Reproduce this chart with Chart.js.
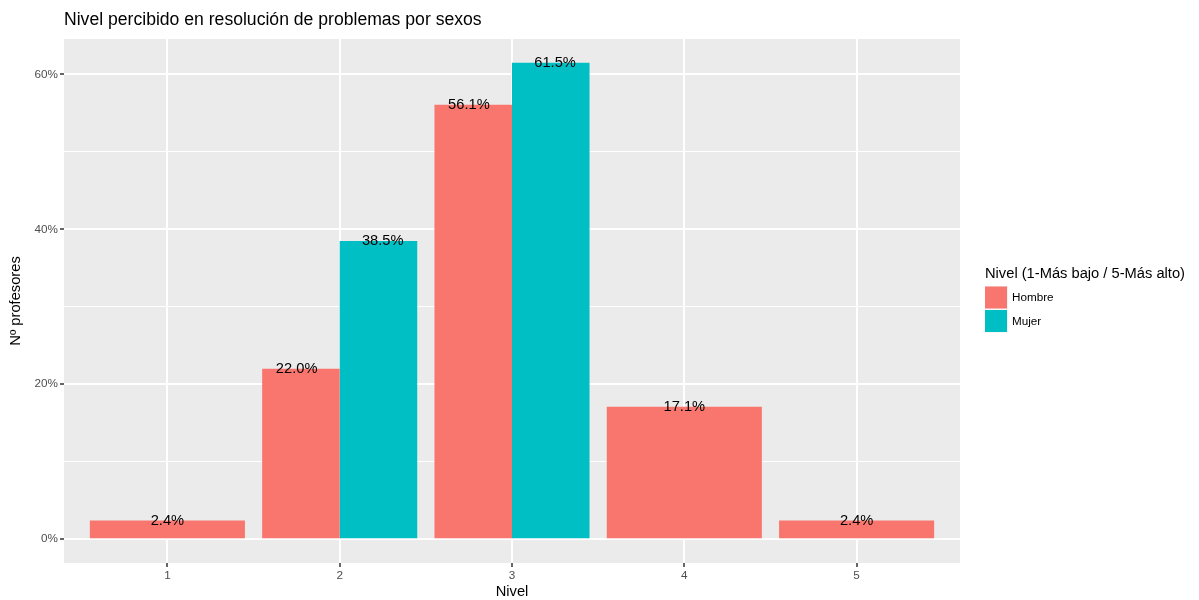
<!DOCTYPE html>
<html><head><meta charset="utf-8">
<script src="https://cdn.jsdelivr.net/npm/chart.js@4"></script>
<style>html,body{margin:0;padding:0;background:#fff}canvas{display:block}</style>
</head><body>
<canvas id="c" width="1199" height="600"></canvas>
<script>
const niveles = [1, 2, 3, 4, 5];
const hombre = [2.4, 22.0, 56.1, 17.1, 2.4];
const mujer = [null, 38.5, 61.5, null, null];
const seriesNames = ['Hombre', 'Mujer'];
const seriesColors = ['#F8766D', '#00BFC4'];
const titleText = 'Nivel percibido en resolución de problemas por sexos';
const xTitle = 'Nivel';
const yTitle = 'Nº profesores';
const legendTitle = 'Nivel (1-Más bajo / 5-Más alto)';

const FONT = '"Liberation Sans", Arial, Helvetica, sans-serif';

function toPoints(vals) { return niveles.map((n, i) => ({ x: n, y: vals[i] })); }

const decor = {
  id: 'decor',
  beforeDraw(chart) {
    const { ctx, chartArea: a } = chart;
    ctx.save();
    ctx.fillStyle = '#EBEBEB';
    ctx.fillRect(a.left, a.top, a.right - a.left, a.bottom - a.top);
    ctx.restore();
  },
  afterDraw(chart) {
    const { ctx, chartArea: a } = chart;
    const xs = chart.scales.x;
    ctx.save();
    ctx.fillStyle = '#000';
    ctx.font = '17.6px ' + FONT;
    ctx.textAlign = 'left';
    ctx.textBaseline = 'alphabetic';
    ctx.fillText(titleText, a.left, 25);
    ctx.font = '14.7px ' + FONT;
    ctx.textAlign = 'center';
    ctx.textBaseline = 'middle';
    ctx.fillText(xTitle, (a.left + a.right) / 2, 592);
    ctx.save();
    ctx.translate(16, (a.top + a.bottom) / 2);
    ctx.rotate(-Math.PI / 2);
    ctx.fillText(yTitle, 0, 0);
    ctx.restore();
    ctx.font = '14.7px ' + FONT;
    ctx.fillStyle = '#000';
    chart.data.datasets.forEach((ds, di) => {
      const meta = chart.getDatasetMeta(di);
      meta.data.forEach((el, i) => {
        const v = ds.data[i].y;
        if (v === null || v === undefined) return;
        const cx = xs.getPixelForValue(ds.data[i].x);
        const lx = cx + (el.x - cx) / 0.9;
        ctx.fillText(v.toFixed(1) + '%', lx, el.y);
      });
    });
    const lx = 985;
    ctx.textAlign = 'left';
    ctx.font = '14.7px ' + FONT;
    ctx.fillText(legendTitle, lx, 274);
    ctx.font = '11.7px ' + FONT;
    seriesNames.forEach((name, i) => {
      const ky = 286 + i * 23.5;
      ctx.fillStyle = '#F2F2F2';
      ctx.fillRect(lx, ky, 23, 23);
      ctx.fillStyle = seriesColors[i];
      ctx.fillRect(lx, ky + 0.5, 22, 22);
      ctx.fillStyle = '#000';
      ctx.fillText(name, lx + 27, ky + 12);
    });
    ctx.restore();
  }
};

new Chart(document.getElementById('c'), {
  type: 'bar',
  data: {
    datasets: [
      { label: seriesNames[0], data: toPoints(hombre), backgroundColor: seriesColors[0], borderWidth: 0,
        categoryPercentage: 0.9, barPercentage: 1, skipNull: true },
      { label: seriesNames[1], data: toPoints(mujer), backgroundColor: seriesColors[1], borderWidth: 0,
        categoryPercentage: 0.9, barPercentage: 1, skipNull: true }
    ]
  },
  options: {
    responsive: false,
    animation: false,
    devicePixelRatio: 1,
    layout: { padding: { left: 0, top: 39, right: 239, bottom: 0 } },
    plugins: { legend: { display: false }, tooltip: { enabled: false }, title: { display: false } },
    scales: {
      x: {
        type: 'linear', min: 0.4, max: 5.6, offset: false,
        afterFit(s) { s.height = 37; },
        border: { display: false },
        grid: { offset: false, color: '#FFFFFF', lineWidth: 2, tickLength: 4, tickColor: '#333333', tickWidth: 1.5 },
        ticks: { stepSize: 1, includeBounds: false, padding: 2, color: '#4D4D4D', font: { family: FONT, size: 11.7 },
                 maxRotation: 0, autoSkip: false }
      },
      y: {
        type: 'linear', min: -3.075, max: 64.575,
        afterFit(s) { s.width = 64; },
        border: { display: false },
        grid: {
          color: '#FFFFFF',
          lineWidth: c => (c.tick && c.tick.value % 20 === 0) ? 2 : 1,
          tickLength: 4,
          tickColor: c => (c.tick && c.tick.value % 20 === 0) ? '#333333' : 'rgba(0,0,0,0)',
          tickWidth: 1.5
        },
        ticks: { stepSize: 10, includeBounds: false, padding: 2, color: '#4D4D4D', font: { family: FONT, size: 11.7 },
                 autoSkip: false, callback: v => (v % 20 === 0 ? v + '%' : '') }
      }
    }
  },
  plugins: [decor]
});
</script>
</body></html>
